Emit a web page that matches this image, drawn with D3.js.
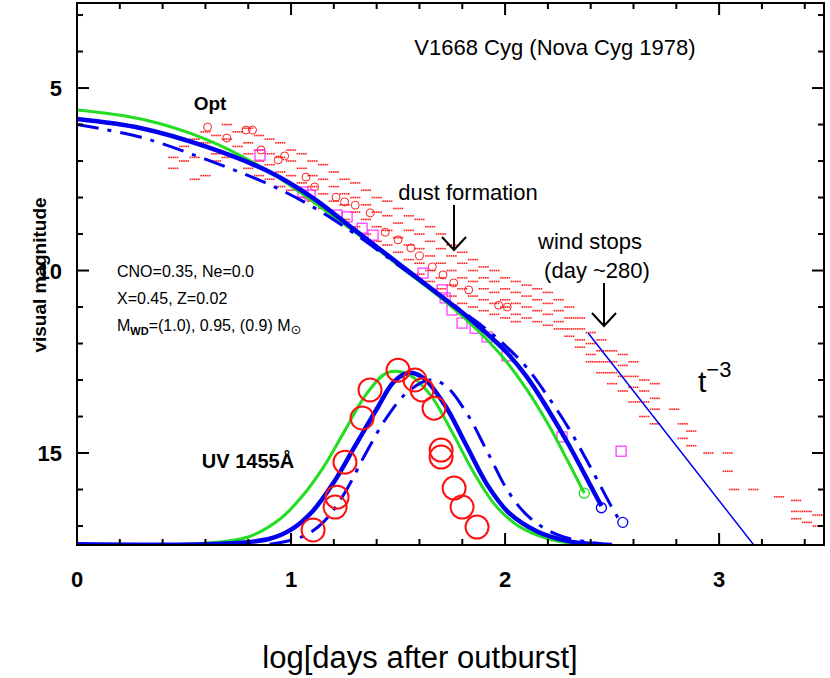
<!DOCTYPE html>
<html><head><meta charset="utf-8">
<script src="https://cdn.jsdelivr.net/npm/d3@7"></script>
<style>body{margin:0;background:#fff}text{font-family:"Liberation Sans","DejaVu Sans",sans-serif}</style>
</head><body><svg id="c" width="830" height="678"></svg>
<script>
// ---- data (x = log days, y = visual magnitude) ----
const xTicks=[0,1,2,3];
const yTicks=[5,10,15];
const optGreen=[[0,5.6],[0.3,5.85],[0.6,6.4],[0.9,7.3],[1.1,8.1],[1.3,8.95],[1.5,9.85],[1.7,10.75],[1.8,11.25],[1.9,11.8],[2.0,12.45],[2.1,13.25],[2.2,14.2],[2.3,15.3],[2.37,16.1]];
const optBlue=[[0,5.85],[0.3,6.1],[0.6,6.6],[0.9,7.3],[1.1,8.0],[1.3,8.9],[1.5,9.8],[1.7,10.7],[1.8,11.15],[1.9,11.65],[2.0,12.2],[2.1,12.9],[2.2,13.8],[2.3,14.8],[2.4,15.9],[2.45,16.45]];
const optBlueDD=[[0,6.0],[0.3,6.35],[0.6,6.95],[0.9,7.65],[1.1,8.25],[1.3,9.0],[1.5,9.85],[1.7,10.7],[1.9,11.55],[2.0,12.05],[2.1,12.65],[2.2,13.45],[2.3,14.35],[2.4,15.4],[2.5,16.5],[2.53,16.8]];
const uvGreen=[[0,17.5],[0.6,17.47],[0.8,17.3],[0.95,16.8],[1.05,16.2],[1.15,15.4],[1.25,14.4],[1.35,13.4],[1.45,12.8],[1.55,12.85],[1.65,13.4],[1.75,14.4],[1.85,15.5],[1.95,16.4],[2.05,16.95],[2.15,17.25],[2.25,17.42],[2.35,17.5]];
const uvBlue=[[0,17.5],[0.7,17.48],[0.9,17.35],[1.0,17.1],[1.1,16.6],[1.2,15.8],[1.3,14.8],[1.4,13.8],[1.48,13.05],[1.55,12.8],[1.62,12.95],[1.72,13.7],[1.82,14.8],[1.92,15.9],[2.02,16.65],[2.15,17.15],[2.3,17.42],[2.45,17.5]];
const uvBlueDD=[[0.9,17.5],[1.05,17.3],[1.15,16.9],[1.25,16.1],[1.35,15.0],[1.45,14.0],[1.55,13.3],[1.65,13.0],[1.72,13.15],[1.82,13.9],[1.92,15.0],[2.02,16.1],[2.12,16.8],[2.25,17.25],[2.4,17.45],[2.5,17.5]];
const t3Line=[[2.388,11.71],[3.17,17.58]];
const uvObs=[[1.103,17.11],[1.215,16.21],[1.206,16.48],[1.252,15.25],[1.332,14.04],[1.369,13.27],[1.5,12.73],[1.579,13.0],[1.612,13.27],[1.668,13.77],[1.701,14.92],[1.701,15.11],[1.762,15.96],[1.799,16.48],[1.869,17.03]];
const optCircles=[[0.61,6.07],[0.70,6.37],[0.79,6.15],[0.82,6.15],[0.86,6.70],[0.94,6.97],[0.97,6.86],[1.07,7.44],[1.11,7.71],[1.21,7.99],[1.25,8.12],[1.30,8.21],[1.37,8.42],[1.44,8.95],[1.50,9.16],[1.56,9.38],[1.60,9.60],[1.66,9.90],[1.71,10.12],[1.76,10.34],[1.83,10.53],[1.97,10.95],[2.01,11.0]];
const squares=[[0.855,6.84],[1.056,7.85],[1.089,7.93],[1.215,8.48],[1.262,8.53],[1.332,8.84],[1.383,9.03],[1.617,10.07],[1.706,10.53],[1.72,10.75],[1.752,11.08],[1.799,11.44],[1.86,11.58],[1.916,11.82],[2.009,12.34],[2.266,14.56],[2.542,14.95]];
const modelEnds=[[2.37,16.1,"#22dd22"],[2.45,16.5,"#0000ee"],[2.55,16.9,"#0000ee"]];
const dotCols=[
[0.45,[6.9,7.2]],[0.5,[6.6,7.0]],[0.55,[6.4,6.9,7.5]],[0.6,[6.2,6.5,7.4]],[0.65,[6.3,6.8,7.0]],[0.7,[6.0,6.4,6.9]],[0.75,[6.2,6.6,6.9]],
[0.8,[6.1,6.5,6.8,7.2]],[0.85,[6.3,6.7,7.0,7.4]],[0.9,[6.4,6.8,7.1,7.5]],[0.95,[6.5,6.9,7.3,7.7]],[1.0,[6.7,7.0,7.4,7.8]],
[1.05,[6.8,7.2,7.6,8.0]],[1.1,[7.0,7.4,7.7,8.1]],[1.15,[7.1,7.5,7.9,8.3]],[1.2,[7.3,7.7,8.1,8.5]],[1.25,[7.5,7.9,8.2,8.6]],
[1.3,[7.6,8.0,8.4,8.8]],[1.35,[7.8,8.2,8.6,9.0]],[1.4,[8.0,8.4,8.8,9.2]],[1.45,[8.1,8.5,8.9,9.3]],[1.5,[8.3,8.7,9.1,9.5]],
[1.55,[8.5,8.9,9.3,9.7]],[1.6,[8.6,9.0,9.4,9.8,10.1]],[1.65,[8.8,9.2,9.6,10.0,10.3]],[1.7,[9.0,9.4,9.8,10.2,10.5]],
[1.75,[9.3,9.6,10.0,10.4,10.7]],[1.8,[9.5,9.8,10.2,10.5,10.9]],[1.85,[9.7,10.0,10.3,10.7,11.0]],[1.9,[9.9,10.2,10.5,10.8,11.1]],
[1.95,[10.0,10.3,10.6,10.9,11.2]],[2.0,[10.2,10.5,10.8,11.0,11.3]],[2.05,[10.3,10.6,10.9,11.2,11.4]],[2.1,[10.4,10.7,11.0,11.3]],
[2.15,[10.5,10.8,11.1,11.4]],[2.2,[10.6,10.9,11.2,11.5]],[2.25,[10.8,11.1,11.4,11.6]],[2.3,[11.0,11.3,11.6,11.8]],
[2.35,[11.3,11.6,11.9,12.1]],[2.4,[11.7,12.0,12.3,12.5]],[2.45,[11.9,12.2,12.5,12.8]],[2.5,[12.2,12.5,12.8,13.1]],
[2.55,[12.3,12.6,12.9,13.3]],[2.6,[12.5,12.9,13.2,13.6]],[2.65,[13.0,13.3,13.6,14.0]],[2.7,[13.1,13.5,13.8,14.2]],
[2.79,[13.8]],[2.83,[14.2,14.6]],[2.87,[14.4,14.8]],[2.95,[15.0]],[3.04,[15.0,15.5]],[3.07,[16.0]],[3.16,[16.0]],
[3.28,[16.2]],[3.36,[16.3,16.6,16.8]],[3.41,[16.6,16.9]],[3.46,[16.7,17.0]]];

// ---- drawing ----
const svg=d3.select("#c");
const L=77,R=824,T=3,B=545;
const x=d3.scaleLinear().domain([0,3.49]).range([L,R]);
const y=d3.scaleLinear().domain([2.67,17.52]).range([T,B]);
svg.append("clipPath").attr("id","cp").append("rect").attr("x",L).attr("y",T).attr("width",R-L).attr("height",B-T);
const P=svg.append("g").attr("clip-path","url(#cp)");
const line=d3.line().x(d=>x(d[0])).y(d=>y(d[1])).curve(d3.curveCatmullRom);

dotCols.forEach(([xv,ms])=>ms.forEach(m=>{
  [-0.02,-0.01,0,0.01,0.02].forEach(dx=>P.append("rect").attr("x",x(xv+dx)-0.8).attr("y",y(m)-0.8).attr("width",1.6).attr("height",1.6).attr("fill","#ff2020"));
}));
P.selectAll(".oc").data(optCircles).join("circle").attr("cx",d=>x(d[0])).attr("cy",d=>y(d[1])).attr("r",4).attr("fill","none").attr("stroke","#ff2020").attr("stroke-width",1);
P.selectAll(".sq").data(squares).join("rect").attr("x",d=>x(d[0])-5).attr("y",d=>y(d[1])-5).attr("width",10).attr("height",10).attr("fill","none").attr("stroke","#ff30ff").attr("stroke-width",1.2);

const dd="22,9,4,9";
[[optGreen,"#22dd22",3,null],[uvGreen,"#22dd22",3,null],[optBlue,"#0000ee",4.5,null],[uvBlue,"#0000ee",4.5,null],[optBlueDD,"#0000ee",3,dd],[uvBlueDD,"#0000ee",3,dd]].forEach(([d,c,w,da])=>{
  const p=P.append("path").attr("d",line(d)).attr("fill","none").attr("stroke",c).attr("stroke-width",w);
  if(da)p.attr("stroke-dasharray",da);
});
P.append("path").attr("d",d3.line().x(d=>x(d[0])).y(d=>y(d[1]))(t3Line)).attr("stroke","#0000ee").attr("stroke-width",1.5).attr("fill","none");
P.selectAll(".uo").data(uvObs).join("circle").attr("cx",d=>x(d[0])).attr("cy",d=>y(d[1])).attr("r",11.5).attr("fill","none").attr("stroke","#ff1010").attr("stroke-width",2);
P.selectAll(".me").data(modelEnds).join("circle").attr("cx",d=>x(d[0])).attr("cy",d=>y(d[1])).attr("r",5).attr("fill","none").attr("stroke",d=>d[2]).attr("stroke-width",1.3);

svg.append("rect").attr("x",L).attr("y",T).attr("width",R-L).attr("height",B-T).attr("fill","none").attr("stroke","#000").attr("stroke-width",2);
d3.range(0,3.5,0.2).forEach(v=>{const maj=Math.abs(v-Math.round(v))<1e-6,len=maj?12:6;
  svg.append("line").attr("x1",x(v)).attr("x2",x(v)).attr("y1",B).attr("y2",B-len).attr("stroke","#000").attr("stroke-width",2);
  svg.append("line").attr("x1",x(v)).attr("x2",x(v)).attr("y1",T).attr("y2",T+len).attr("stroke","#000").attr("stroke-width",2);});
d3.range(3,18,1).forEach(v=>{const maj=v%5===0,len=maj?12:6;
  svg.append("line").attr("y1",y(v)).attr("y2",y(v)).attr("x1",L).attr("x2",L+len).attr("stroke","#000").attr("stroke-width",2);
  svg.append("line").attr("y1",y(v)).attr("y2",y(v)).attr("x1",R).attr("x2",R-len).attr("stroke","#000").attr("stroke-width",2);});
xTicks.forEach(v=>svg.append("text").attr("x",x(v)).attr("y",587).attr("text-anchor","middle").attr("font-size",22).attr("font-weight","bold").text(v));
yTicks.forEach(v=>svg.append("text").attr("x",62).attr("y",y(v)+8).attr("text-anchor","end").attr("font-size",22).attr("font-weight","bold").text(v));

const T_=(tx,ty,s,sz,opt={})=>{const e=svg.append("text").attr("x",tx).attr("y",ty).attr("font-size",sz).text(s);
  if(opt.b)e.attr("font-weight","bold");if(opt.a)e.attr("text-anchor",opt.a);return e;};
T_(555,55,"V1668 Cyg (Nova Cyg 1978)",22,{a:"middle"});
T_(210,110,"Opt",19,{a:"middle",b:1});
T_(468,200,"dust formation",22,{a:"middle"});
T_(590,249,"wind stops",22,{a:"middle"});
T_(597,278,"(day ~280)",22,{a:"middle"});
T_(248,468,"UV 1455Å",20,{a:"middle",b:1});
T_(117,277,"CNO=0.35, Ne=0.0",16);
T_(117,304,"X=0.45, Z=0.02",16);
const m=T_(117,331,"M",16);m.append("tspan").attr("font-size",11).attr("font-weight","bold").attr("dy",4).text("WD");
m.append("tspan").attr("dy",-4).text("=(1.0), 0.95, (0.9) M");m.append("tspan").attr("font-size",13).attr("dy",3).text("⊙");
const tt=T_(698,392,"t",30);tt.append("tspan").attr("font-size",22).attr("dy",-15).text("−3");
T_(420,668,"log[days after outburst]",31,{a:"middle"});
svg.append("text").attr("transform","translate(46,275) rotate(-90)").attr("text-anchor","middle").attr("font-size",19).attr("font-weight","bold").text("visual magnitude");
[[454,205,250],[604,283,326]].forEach(([ax,y1,y2])=>{
  svg.append("line").attr("x1",ax).attr("x2",ax).attr("y1",y1).attr("y2",y2).attr("stroke","#000").attr("stroke-width",2);
  svg.append("path").attr("d",`M${ax-12},${y2-13}L${ax},${y2}L${ax+12},${y2-13}`).attr("fill","none").attr("stroke","#000").attr("stroke-width",2);});
</script></body></html>
